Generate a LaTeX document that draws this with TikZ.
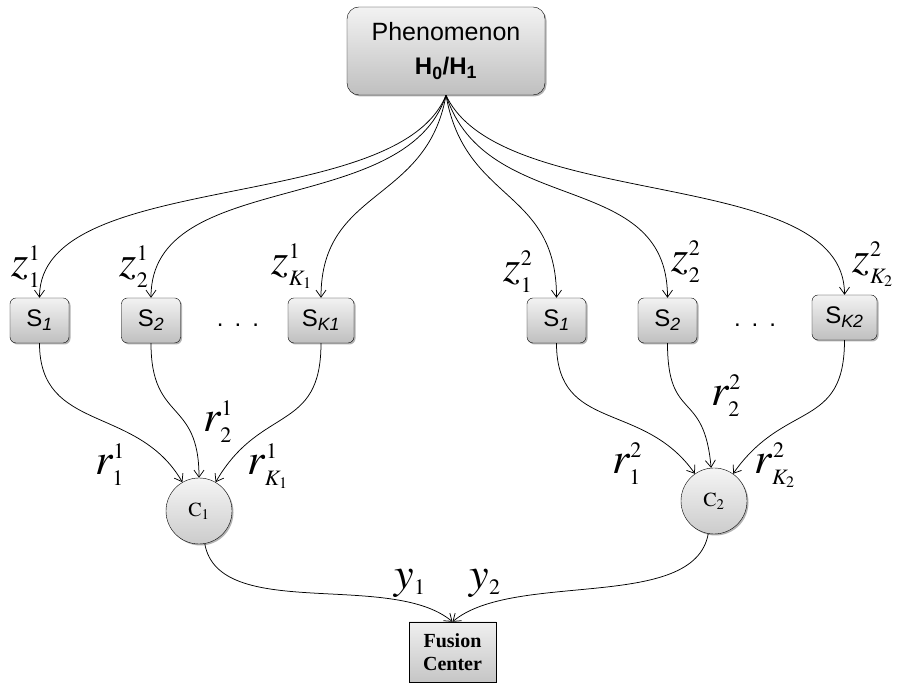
\documentclass[tikz,border=0pt]{standalone}
\usepackage{mathptmx}
\usepackage[no-math]{fontspec}
\setmainfont{Liberation Serif}
\setsansfont{Liberation Sans}
\usetikzlibrary{arrows.meta,shadows}
\DeclareMathSizes{44}{44}{22}{16}

\begin{document}
\begin{tikzpicture}[x=1pt, y=1pt,
    box/.style={draw, rounded corners=6pt, top color=gray!10, bottom color=gray!50,
      drop shadow={shadow xshift=1.5pt, shadow yshift=-1.5pt, opacity=0.6},
      minimum width=59pt, minimum height=45pt, inner sep=0pt,
      font=\sffamily\fontsize{24}{24}\selectfont},
    comb/.style={circle, draw, minimum size=66pt, inner sep=0pt,
      top color=gray!8, bottom color=gray!40,
      drop shadow={shadow xshift=1.5pt, shadow yshift=-1.5pt, opacity=0.6},
      font=\fontsize{20}{20}\selectfont},
    lbl/.style={inner sep=0pt, font=\fontsize{44}{44}\selectfont},
    link/.style={-{Straight Barb[length=7pt,width=10pt]}, line width=0.75pt}]
    \useasboundingbox (0,0) rectangle (898,685);

    % source
    \node[box, rounded corners=12pt, minimum width=198pt, minimum height=88pt, align=center,
      font=\sffamily\fontsize{25}{34}\selectfont] (phen) at (446,634)
      {Phenomenon\\{\fontsize{24}{34}\selectfont\bfseries H\textsubscript{0}/H\textsubscript{1}}};

    % sensors
    \node[box] (s11) at (39.5,364.5) {S\textsubscript{\itshape 1}};
    \node[box] (s12) at (151,364.5) {S\textsubscript{\itshape 2}};
    \node[box, minimum width=66pt] (s1k) at (321,364.5) {S\textsubscript{\itshape K1}};
    \node[box] (s21) at (556.5,364.5) {S\textsubscript{\itshape 1}};
    \node[box] (s22) at (667.5,364.5) {S\textsubscript{\itshape 2}};
    \node[box, minimum width=65pt] (s2k) at (844.5,367.5) {S\textsubscript{\itshape K2}};
    \node[font=\sffamily\fontsize{24}{24}\selectfont] (dots1) at (238,360) {.\hspace{11pt}.\hspace{11pt}.};
    \node[font=\sffamily\fontsize{24}{24}\selectfont] (dots2) at (755,360) {.\hspace{11pt}.\hspace{11pt}.};

    % cluster heads and fusion center
    \node[comb] (c1) at (199,174) {$\mathrm{C}_1$};
    \node[comb] (c2) at (714,184) {$\mathrm{C}_2$};
    \node[draw, top color=gray!12, bottom color=gray!45, minimum width=87pt, minimum height=60pt,
      align=center, font=\bfseries\fontsize{20}{23}\selectfont] (fc) at (452.5,33) {Fusion\\Center};

    % labels
    \node[lbl] (z11) at (26,418) {$z^1_1$};
    \node[lbl] (z12) at (134,418) {$z^1_2$};
    \node[lbl] (z1k) at (292,419) {$z^1_{K_1}$};
    \node[lbl] (z21) at (518,413) {$z^2_1$};
    \node[lbl] (z22) at (686,423) {$z^2_2$};
    \node[lbl] (z2k) at (873,421) {$z^2_{K_2}$};
    \node[lbl] (r11) at (110,220) {$r^1_1$};
    \node[lbl] (r12) at (218,263) {$r^1_2$};
    \node[lbl] (r1k) at (268,219) {$r^1_{K_1}$};
    \node[lbl] (r21) at (627,221) {$r^2_1$};
    \node[lbl] (r22) at (726,289) {$r^2_2$};
    \node[lbl] (r2k) at (775,220) {$r^2_{K_2}$};
    \node[lbl] (y1) at (410,102) {$y_1$};
    \node[lbl] (y2) at (485,102) {$y_2$};

    \path[link]
    (phen.south) edge [out=-112, in=90, distance=130pt] (s11.north)
    (phen.south) edge [out=-108, in=90, distance=130pt] (s12.north)
    (phen.south) edge [out=-100, in=90, distance=110pt] (s1k.north)
    (phen.south) edge [out=-80, in=90, distance=110pt] (s21.north)
    (phen.south) edge [out=-72, in=90, distance=130pt] (s22.north)
    (phen.south) edge [out=-65, in=90, distance=130pt] (s2k.north)
    (s11.south) edge [out=-90, in=120, distance=90pt] (c1)
    (s12.south) edge [out=-90, in=90, distance=80pt] (c1)
    (s1k.south) edge [out=-90, in=60, distance=90pt] (c1)
    (s21.south) edge [out=-90, in=125, distance=90pt] (c2)
    (s22.south) edge [out=-90, in=95, distance=80pt] (c2)
    (s2k.south) edge [out=-90, in=55, distance=90pt] (c2)
    (c1) edge [out=-80, in=140, distance=80pt] (fc.north)
    (c2) edge [out=-100, in=40, distance=80pt] (fc.north);
\end{tikzpicture}
\end{document}
